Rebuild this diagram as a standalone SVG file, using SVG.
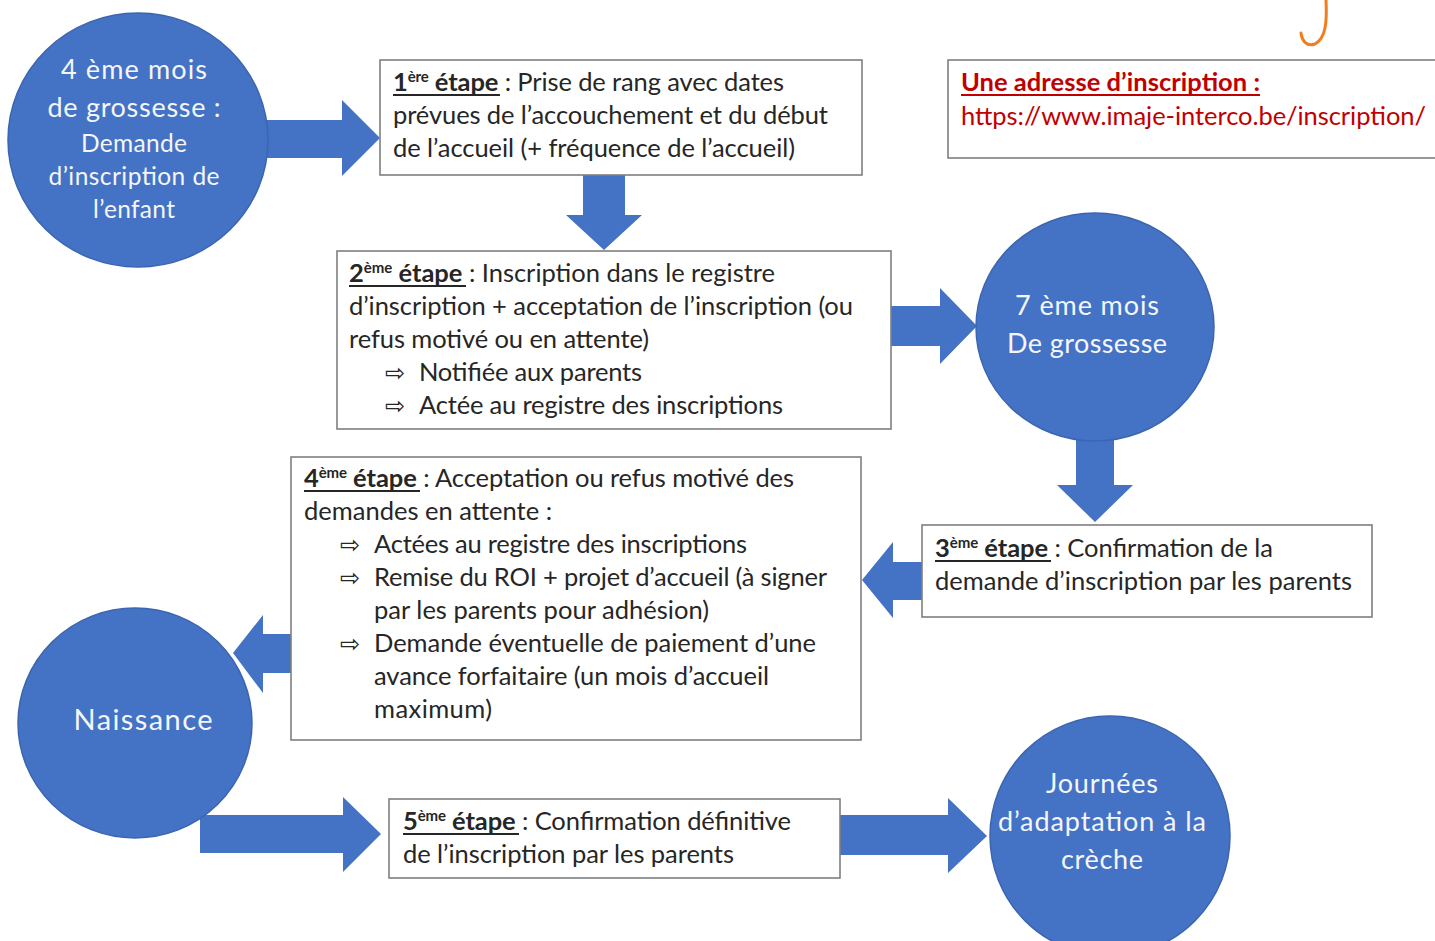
<svg xmlns="http://www.w3.org/2000/svg" width="1435" height="941" viewBox="0 0 1435 941">
<defs>
<style>
.bg{fill:#ffffff}
.arrow{fill:#4472c4}
.circle{fill:#4472c4;stroke:#3b65b0;stroke-width:1.5}
.box{fill:#ffffff;stroke:#7f7f7f;stroke-width:1.6}
.ct{font-family:Lato,"Liberation Sans",sans-serif;fill:#f4f6fb;text-anchor:middle}
.t{font-family:Lato,"Liberation Sans",sans-serif;font-size:25.5px;fill:#262626}
.b{font-weight:bold}
.sup{font-size:15px;font-weight:bold}
.bul{font-family:"DejaVu Sans",sans-serif;font-size:24px;fill:#262626}
.ul{stroke:#262626;stroke-width:2}
.red{fill:#c00000}
.ulr{stroke:#c00000;stroke-width:2}
</style>
</defs>
<rect class="bg" x="0" y="0" width="1435" height="941"/>

<path d="M1326,0 C1327,22 1326,38 1315,44 C1307,47 1302,41 1301,33" fill="none" stroke="#f07d1e" stroke-width="3" stroke-linecap="round"/>

<g id="connectors">
<polygon class="arrow" points="262,120 342,120 342,100 380,138 342,176 342,158 262,158"/>
<polygon class="arrow" points="583,175 625,175 625,215 642,215 604,250 566,215 583,215"/>
<polygon class="arrow" points="891,306 940,306 940,288 977,326 940,364 940,346 891,346"/>
<polygon class="arrow" points="1076,440 1114,440 1114,485 1133,485 1095,522 1057,485 1076,485"/>
<polygon class="arrow" points="922,562 893,562 893,542 862,580 893,618 893,600 922,600"/>
<polygon class="arrow" points="291,634 263,634 263,615 233,653 263,693 263,673 291,673"/>
<polygon class="arrow" points="200,815 343,815 343,797 381,834 343,872 343,853 200,853"/>
<polygon class="arrow" points="840,815 948,815 948,798 987,836 948,873 948,855 840,855"/>
</g>

<g id="node-4eme-mois">
<ellipse class="circle" cx="138" cy="140" rx="130" ry="127"/>
<text class="ct" x="134" y="79" font-size="27" textLength="146" lengthAdjust="spacing">4 ème mois</text>
<text class="ct" x="134" y="117" font-size="27" textLength="173" lengthAdjust="spacing">de grossesse :</text>
<text class="ct" x="134" y="152" font-size="24.5" textLength="106" lengthAdjust="spacing">Demande</text>
<text class="ct" x="134" y="185" font-size="24.5" textLength="171" lengthAdjust="spacing">d’inscription de</text>
<text class="ct" x="134" y="218" font-size="24.5" textLength="82" lengthAdjust="spacing">l’enfant</text>
</g>

<g id="node-etape1">
<rect class="box" x="380" y="60" width="482" height="115"/>
<text class="t" x="393" y="91" textLength="391" lengthAdjust="spacing"><tspan class="b">1</tspan><tspan class="sup" dy="-9">ère</tspan><tspan class="b" dy="9"> étape</tspan> : Prise de rang avec dates</text>
<line class="ul" x1="393" y1="95" x2="500" y2="95"/>
<text class="t" x="393" y="124" textLength="435" lengthAdjust="spacing">prévues de l’accouchement et du début</text>
<text class="t" x="393" y="157" textLength="402" lengthAdjust="spacing">de l’accueil (+ fréquence de l’accueil)</text>
</g>

<g id="node-adresse">
<rect class="box" x="948" y="60" width="500" height="98"/>
<text class="t red b" x="961" y="91" textLength="299" lengthAdjust="spacing">Une adresse d’inscription :</text>
<line class="ulr" x1="961" y1="95" x2="1260" y2="95"/>
<text class="t red" x="961" y="125" textLength="465" lengthAdjust="spacing">https://www.imaje-interco.be/inscription/</text>
</g>

<g id="node-etape2">
<rect class="box" x="337" y="251" width="554" height="178"/>
<text class="t" x="349" y="282" textLength="426" lengthAdjust="spacing"><tspan class="b">2</tspan><tspan class="sup" dy="-9">ème</tspan><tspan class="b" dy="9"> étape</tspan> : Inscription dans le registre</text>
<line class="ul" x1="349" y1="286" x2="466" y2="286"/>
<text class="t" x="349" y="315" textLength="504" lengthAdjust="spacing">d’inscription + acceptation de l’inscription (ou</text>
<text class="t" x="349" y="348" textLength="300" lengthAdjust="spacing">refus motivé ou en attente)</text>
<text class="bul" x="385" y="381">⇨</text>
<text class="t" x="419" y="381" textLength="223" lengthAdjust="spacing">Notifiée aux parents</text>
<text class="bul" x="385" y="414">⇨</text>
<text class="t" x="419" y="414" textLength="364" lengthAdjust="spacing">Actée au registre des inscriptions</text>
</g>

<g id="node-7eme-mois">
<ellipse class="circle" cx="1095" cy="327" rx="119" ry="114"/>
<text class="ct" x="1087" y="315" font-size="27" textLength="144" lengthAdjust="spacing">7 ème mois</text>
<text class="ct" x="1087" y="353" font-size="27" textLength="160" lengthAdjust="spacing">De grossesse</text>
</g>

<g id="node-etape3">
<rect class="box" x="922" y="525" width="450" height="92"/>
<text class="t" x="935" y="557" textLength="338" lengthAdjust="spacing"><tspan class="b">3</tspan><tspan class="sup" dy="-9">ème</tspan><tspan class="b" dy="9"> étape</tspan> : Confirmation de la</text>
<line class="ul" x1="935" y1="561" x2="1051" y2="561"/>
<text class="t" x="935" y="590" textLength="417" lengthAdjust="spacing">demande d’inscription par les parents</text>
</g>

<g id="node-etape4">
<rect class="box" x="291" y="457" width="570" height="283"/>
<text class="t" x="304" y="487" textLength="490" lengthAdjust="spacing"><tspan class="b">4</tspan><tspan class="sup" dy="-9">ème</tspan><tspan class="b" dy="9"> étape</tspan> : Acceptation ou refus motivé des</text>
<line class="ul" x1="304" y1="491" x2="420" y2="491"/>
<text class="t" x="304" y="520" textLength="248" lengthAdjust="spacing">demandes en attente :</text>
<text class="bul" x="340" y="553">⇨</text>
<text class="t" x="374" y="553" textLength="373" lengthAdjust="spacing">Actées au registre des inscriptions</text>
<text class="bul" x="340" y="586">⇨</text>
<text class="t" x="374" y="586" textLength="453" lengthAdjust="spacing">Remise du ROI + projet d’accueil (à signer</text>
<text class="t" x="374" y="619" textLength="335" lengthAdjust="spacing">par les parents pour adhésion)</text>
<text class="bul" x="340" y="652">⇨</text>
<text class="t" x="374" y="652" textLength="442" lengthAdjust="spacing">Demande éventuelle de paiement d’une</text>
<text class="t" x="374" y="685" textLength="395" lengthAdjust="spacing">avance forfaitaire (un mois d’accueil</text>
<text class="t" x="374" y="718" textLength="118" lengthAdjust="spacing">maximum)</text>
</g>

<g id="node-naissance">
<ellipse class="circle" cx="135" cy="723" rx="117" ry="115"/>
<text class="ct" x="143" y="730" font-size="29" textLength="139" lengthAdjust="spacing">Naissance</text>
</g>

<g id="node-etape5">
<rect class="box" x="389" y="799" width="451" height="79"/>
<text class="t" x="403" y="830" textLength="388" lengthAdjust="spacing"><tspan class="b">5</tspan><tspan class="sup" dy="-9">ème</tspan><tspan class="b" dy="9"> étape</tspan> : Confirmation définitive</text>
<line class="ul" x1="403" y1="834" x2="519" y2="834"/>
<text class="t" x="403" y="863" textLength="331" lengthAdjust="spacing">de l’inscription par les parents</text>
</g>

<g id="node-journees">
<ellipse class="circle" cx="1110" cy="836" rx="120" ry="120"/>
<text class="ct" x="1102" y="793" font-size="27" textLength="112" lengthAdjust="spacing">Journées</text>
<text class="ct" x="1102" y="831" font-size="27" textLength="208" lengthAdjust="spacing">d’adaptation à la</text>
<text class="ct" x="1102" y="869" font-size="27" textLength="82" lengthAdjust="spacing">crèche</text>
</g>
</svg>
